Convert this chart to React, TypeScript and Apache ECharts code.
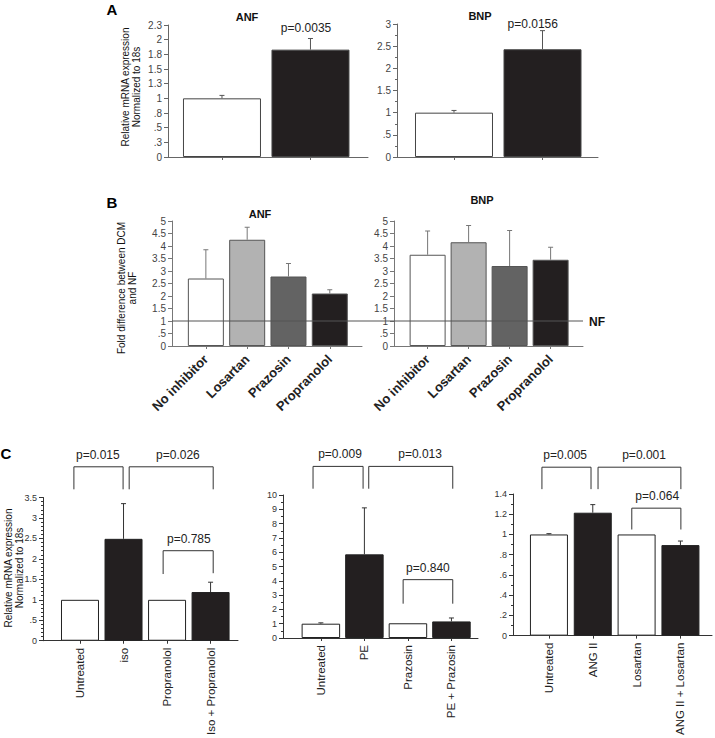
import React, { useEffect, useRef } from "react";
import * as echarts from "echarts";

// ---------- Panel A (NF vs DCM) ----------
const aCats = ["NF", "DCM"];
const aAnfValues = [1.0, 1.83];
const aAnfErrors = [1.05, 2.02];
const aBnpValues = [1.0, 2.43];
const aBnpErrors = [1.05, 2.85];
const aAnfNote = [[0.95, 2.2]];
const aAnfNoteLabels = ["p=0.0035"];
const aBnpNote = [[0.89, 2.99]];
const aBnpNoteLabels = ["p=0.0156"];

// ---------- Panel B (fold difference DCM / NF) ----------
const bCats = ["No inhibitor", "Losartan", "Prazosin", "Propranolol"];
const bAnfValues = [2.7, 4.25, 2.78, 2.1];
const bAnfErrors = [3.85, 4.75, 3.3, 2.25];
const bBnpValues = [3.65, 4.15, 3.2, 3.45];
const bBnpErrors = [4.6, 4.82, 4.62, 3.95];
const nfLevel = 1;

// ---------- Panel C ----------
const cIsoCats = ["Untreated", "iso", "Propranolol", "Iso + Propranolol"];
const cIsoValues = [1, 2.49, 1, 1.19];
const cIsoErrors = [1, 3.35, 1, 1.43];
const cIsoBrackets = [
  [-0.14, 0.99, 4.25, 3.7, 3.7, 0.41],
  [1.13, 3.06, 4.25, 3.7, 3.7, 2.25],
  [1.91, 3.06, 2.2, 1.63, 1.65, 2.5],
];
const cIsoBracketLabels = ["p=0.015", "p=0.026", "p=0.785"];

const cPeCats = ["Untreated", "PE", "Prazosin", "PE + Prazosin"];
const cPeValues = [1, 5.85, 1.03, 1.16];
const cPeErrors = [1.06, 9.1, 1.03, 1.4];
const cPeBrackets = [
  [-0.18, 0.97, 12.0, 10.44, 10.44, 0.44],
  [1.1, 3.03, 12.0, 10.44, 10.44, 2.28],
  [1.89, 3.03, 4.08, 2.4, 2.4, 2.46],
];
const cPeBracketLabels = ["p=0.009", "p=0.013", "p=0.840"];

const cAngCats = ["Untreated", "ANG II", "Losartan", "ANG II + Losartan"];
const cAngValues = [1, 1.215, 1, 0.895];
const cAngErrors = [1.008, 1.295, 1, 0.935];
const cAngBrackets = [
  [-0.16, 0.96, 1.665, 1.448, 1.448, 0.37],
  [1.12, 3.01, 1.665, 1.448, 1.448, 2.17],
  [1.89, 3.01, 1.26, 1.049, 1.049, 2.47],
];
const cAngBracketLabels = ["p=0.005", "p=0.001", "p=0.064"];

const FONT = "'Liberation Sans', Arial, Helvetica, sans-serif";

function fmtTick(v: number): string {
  const r = Math.round(v * 10 + 1e-7) / 10;
  if (r === 0) return "0";
  let s = String(r);
  if (s.startsWith("0.")) s = s.slice(1);
  return s;
}

type Panel = {
  grid: { left: number; top: number; width: number; height: number };
  xMin: number;
  xMax: number;
  yMax: number;
  yInterval: number;
  minor?: number;
  cats: string[];
  values: number[];
  errors: number[];
  colors: string[];
  barWidth: number;
  labelMode: "none" | "diag" | "vert";
  axisColor: string;
  labelColor: string;
  errColor: string;
  borderColor: string;
  tickFont: number;
  brackets?: number[][];
  bracketLabels?: string[];
  notes?: number[][];
  noteLabels?: string[];
};

const WHITE = "#ffffff";
const BLACK = "#231f20";

const panels: Panel[] = [
  {
    grid: { left: 168, top: 25, width: 200, height: 132 },
    xMin: -0.61, xMax: 1.65, yMax: 2.25, yInterval: 0.25,
    cats: aCats, values: aAnfValues, errors: aAnfErrors, colors: [WHITE, BLACK],
    barWidth: 78, labelMode: "none", axisColor: "#666", labelColor: "#444",
    errColor: "#555", borderColor: "#444", tickFont: 10,
    notes: aAnfNote, noteLabels: aAnfNoteLabels,
  },
  {
    grid: { left: 397, top: 24, width: 201, height: 133 },
    xMin: -0.644, xMax: 1.627, yMax: 3, yInterval: 0.5, minor: 2,
    cats: aCats, values: aBnpValues, errors: aBnpErrors, colors: [WHITE, BLACK],
    barWidth: 78, labelMode: "none", axisColor: "#666", labelColor: "#444",
    errColor: "#555", borderColor: "#444", tickFont: 10,
    notes: aBnpNote, noteLabels: aBnpNoteLabels,
  },
  {
    grid: { left: 172, top: 221, width: 190, height: 125 },
    xMin: -0.82, xMax: 3.78, yMax: 5, yInterval: 0.5,
    cats: bCats, values: bAnfValues, errors: bAnfErrors,
    colors: [WHITE, "#b2b2b2", "#636363", BLACK],
    barWidth: 36, labelMode: "diag", axisColor: "#777", labelColor: "#444",
    errColor: "#777", borderColor: "#555", tickFont: 10,
  },
  {
    grid: { left: 394, top: 221, width: 189, height: 125 },
    xMin: -0.82, xMax: 3.79, yMax: 5, yInterval: 0.5,
    cats: bCats, values: bBnpValues, errors: bBnpErrors,
    colors: [WHITE, "#b2b2b2", "#636363", BLACK],
    barWidth: 36, labelMode: "diag", axisColor: "#777", labelColor: "#444",
    errColor: "#777", borderColor: "#555", tickFont: 10,
  },
  {
    grid: { left: 43, top: 497.5, width: 195, height: 143.5 },
    xMin: -0.85, xMax: 3.63, yMax: 3.5, yInterval: 0.5, minor: 5,
    cats: cIsoCats, values: cIsoValues, errors: cIsoErrors,
    colors: [WHITE, BLACK, WHITE, BLACK],
    barWidth: 38, labelMode: "vert", axisColor: "#333", labelColor: "#333",
    errColor: "#333", borderColor: "#222", tickFont: 9,
    brackets: cIsoBrackets, bracketLabels: cIsoBracketLabels,
  },
  {
    grid: { left: 283, top: 495, width: 195, height: 143 },
    xMin: -0.87, xMax: 3.61, yMax: 10, yInterval: 1, minor: 2,
    cats: cPeCats, values: cPeValues, errors: cPeErrors,
    colors: [WHITE, BLACK, WHITE, BLACK],
    barWidth: 38.5, labelMode: "vert", axisColor: "#333", labelColor: "#333",
    errColor: "#333", borderColor: "#222", tickFont: 9,
    brackets: cPeBrackets, bracketLabels: cPeBracketLabels,
  },
  {
    grid: { left: 513, top: 494, width: 199, height: 144 },
    xMin: -0.82, xMax: 3.72, yMax: 1.4, yInterval: 0.2, minor: 2,
    cats: cAngCats, values: cAngValues, errors: cAngErrors,
    colors: [WHITE, BLACK, WHITE, BLACK],
    barWidth: 38, labelMode: "vert", axisColor: "#333", labelColor: "#333",
    errColor: "#333", borderColor: "#222", tickFont: 9,
    brackets: cAngBrackets, bracketLabels: cAngBracketLabels,
  },
];

function buildOption() {
  const grid: any[] = [];
  const xAxis: any[] = [];
  const yAxis: any[] = [];
  const series: any[] = [];

  panels.forEach((p, k) => {
    const idx = p.cats.map((_, i) => i);
    grid.push({ ...p.grid, containLabel: false });
    const labelCommon: any = {
      show: p.labelMode !== "none",
      customValues: idx,
      formatter: (v: number) => p.cats[Math.round(v)] ?? "",
      color: "#222",
      fontFamily: FONT,
    };
    if (p.labelMode === "diag") {
      Object.assign(labelCommon, { rotate: 45, margin: 11, fontSize: 13, fontWeight: "bold" });
    } else if (p.labelMode === "vert") {
      Object.assign(labelCommon, { rotate: 90, margin: 7, fontSize: 11.5 });
    }
    xAxis.push({
      gridIndex: k,
      type: "value",
      min: p.xMin,
      max: p.xMax,
      axisLine: { show: true, onZero: false, lineStyle: { color: p.axisColor, width: 1 } },
      axisTick: { show: true, customValues: idx, length: 3, lineStyle: { color: p.axisColor } },
      axisLabel: labelCommon,
      splitLine: { show: false },
    });
    yAxis.push({
      gridIndex: k,
      type: "value",
      min: 0,
      max: p.yMax,
      interval: p.yInterval,
      axisLine: { show: true, onZero: false, lineStyle: { color: p.axisColor, width: 1 } },
      axisTick: { show: true, length: 4, lineStyle: { color: p.axisColor } },
      minorTick: p.minor
        ? { show: true, splitNumber: p.minor, length: 2, lineStyle: { color: p.axisColor } }
        : { show: false },
      axisLabel: {
        formatter: fmtTick,
        fontSize: p.tickFont,
        color: p.labelColor,
        fontFamily: FONT,
        margin: 6,
      },
      splitLine: { show: false },
    });
    series.push({
      type: "bar",
      xAxisIndex: k,
      yAxisIndex: k,
      barWidth: p.barWidth,
      silent: true,
      itemStyle: { borderColor: p.borderColor, borderWidth: 1 },
      data: p.values.map((v, i) => ({ value: [i, v], itemStyle: { color: p.colors[i] } })),
    });
    series.push({
      type: "custom",
      xAxisIndex: k,
      yAxisIndex: k,
      silent: true,
      z: 3,
      data: p.values.map((v, i) => [i, v, p.errors[i]]),
      renderItem: (_params: any, api: any) => {
        const x = api.value(0);
        const p0 = api.coord([x, api.value(1)]);
        const p1 = api.coord([x, api.value(2)]);
        if (Math.abs(p1[1] - p0[1]) < 0.3) return null;
        const st = { stroke: p.errColor, lineWidth: 1 };
        return {
          type: "group",
          children: [
            { type: "line", shape: { x1: p0[0], y1: p0[1], x2: p1[0], y2: p1[1] }, style: st },
            { type: "line", shape: { x1: p1[0] - 2.5, y1: p1[1], x2: p1[0] + 2.5, y2: p1[1] }, style: st },
          ],
        };
      },
    });
    if (p.brackets) {
      const labels = p.bracketLabels || [];
      series.push({
        type: "custom",
        xAxisIndex: k,
        yAxisIndex: k,
        silent: true,
        clip: false,
        data: p.brackets,
        renderItem: (params: any, api: any) => {
          const x1 = api.value(0), x2 = api.value(1), yt = api.value(2);
          const yb1 = api.value(3), yb2 = api.value(4), xt = api.value(5);
          const a = api.coord([x1, yt]);
          const b = api.coord([x2, yt]);
          const c = api.coord([x1, yb1]);
          const d = api.coord([x2, yb2]);
          const t = api.coord([xt, yt]);
          return {
            type: "group",
            children: [
              {
                type: "polyline",
                shape: { points: [c, a, b, d] },
                style: { stroke: "#333", fill: null, lineWidth: 1 },
              },
              {
                type: "text",
                x: t[0],
                y: t[1] - 12,
                style: {
                  text: labels[params.dataIndex],
                  textAlign: "center",
                  textVerticalAlign: "middle",
                  font: `12px ${FONT}`,
                  fill: "#222",
                },
              },
            ],
          };
        },
      });
    }
    if (p.notes) {
      const labels = p.noteLabels || [];
      series.push({
        type: "custom",
        xAxisIndex: k,
        yAxisIndex: k,
        silent: true,
        clip: false,
        data: p.notes,
        renderItem: (params: any, api: any) => {
          const t = api.coord([api.value(0), api.value(1)]);
          return {
            type: "text",
            x: t[0],
            y: t[1],
            style: {
              text: labels[params.dataIndex],
              textAlign: "center",
              textVerticalAlign: "middle",
              font: `12px ${FONT}`,
              fill: "#222",
            },
          };
        },
      });
    }
  });

  return {
    animation: false,
    backgroundColor: "#ffffff",
    grid,
    xAxis,
    yAxis,
    series,
  };
}

function txt(x: number, y: number, text: string, font: string, extra: any = {}) {
  return {
    type: "text",
    x,
    y,
    silent: true,
    ...extra,
    style: {
      text,
      font,
      fill: "#111",
      textAlign: "center",
      textVerticalAlign: "middle",
      ...(extra.style || {}),
    },
  };
}

export default function App() {
  const ref = useRef<HTMLDivElement>(null);
  useEffect(() => {
    if (!ref.current) return;
    const chart = echarts.init(ref.current, undefined, { renderer: "svg" });
    chart.setOption(buildOption() as any);

    const bA = panels[2];
    const bB = panels[3];
    const p1 = chart.convertToPixel({ gridIndex: 2 } as any, [bA.xMin, nfLevel]) as number[];
    const p2 = chart.convertToPixel({ gridIndex: 3 } as any, [bB.xMax, nfLevel]) as number[];

    const rot = { rotation: Math.PI / 2, style: { lineHeight: 11 } };
    const graphics: any[] = [
      txt(112, 9, "A", `bold 15px ${FONT}`, { style: { fill: "#000" } }),
      txt(112, 202, "B", `bold 15px ${FONT}`, { style: { fill: "#000" } }),
      txt(6, 453, "C", `bold 15px ${FONT}`, { style: { fill: "#000" } }),
      txt(247, 17, "ANF", `bold 11px ${FONT}`),
      txt(480, 16, "BNP", `bold 11px ${FONT}`),
      txt(260, 214, "ANF", `bold 11px ${FONT}`),
      txt(482, 200, "BNP", `bold 11px ${FONT}`),
      txt(130.5, 87, "Relative mRNA expression\nNormalized to 18s", `10px ${FONT}`, rot),
      txt(126.5, 288, "Fold difference between DCM\nand NF", `10px ${FONT}`, rot),
      txt(13.5, 568, "Relative mRNA expression\nNormalized to 18s", `10px ${FONT}`, rot),
      {
        type: "line",
        silent: true,
        z: 10,
        shape: { x1: p1[0], y1: p1[1], x2: p2[0], y2: p2[1] },
        style: { stroke: "#555", lineWidth: 1.2 },
      },
      txt(p2[0] + 6, p2[1] + 1, "NF", `bold 12px ${FONT}`, { style: { textAlign: "left", fill: "#111" } }),
    ];
    chart.setOption({ graphic: { elements: graphics } } as any);

    return () => chart.dispose();
  }, []);
  return (
    <div
      ref={ref}
      style={{ position: "fixed", left: 0, top: 0, width: 715, height: 738, background: "#fff" }}
    />
  );
}
